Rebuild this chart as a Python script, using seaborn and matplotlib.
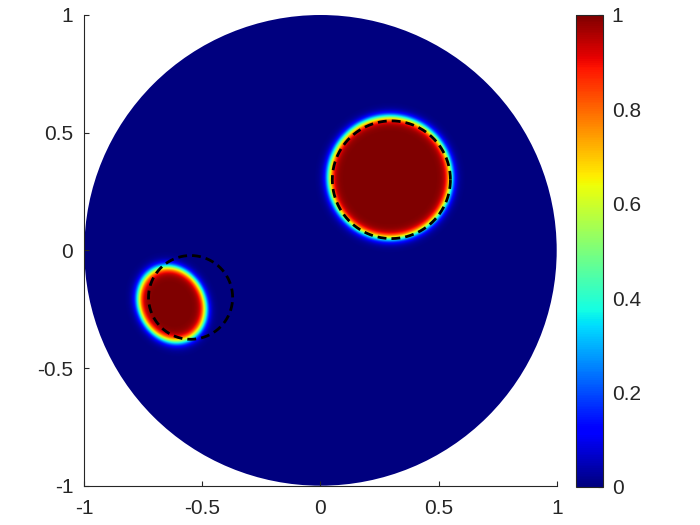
import numpy as np
import pandas as pd
import matplotlib
matplotlib.use("Agg")
import matplotlib.pyplot as plt
import seaborn as sns
from matplotlib.patches import Circle

# ---- data ----
# smooth inclusions (0.5-level contour), jet field value 1 inside, 0 outside
blob_cx = [0.294, -0.629]
blob_cy = [0.310, -0.228]
blob_a = [0.258, 0.163]      # semi-axis along blob_angle
blob_b = [0.258, 0.137]
blob_angle = [0.0, 115.0]    # degrees
blob_eps = [0.021, 0.021]    # interface width

# dashed reference circles
circ_cx = [0.30, -0.55]
circ_cy = [0.30, -0.20]
circ_r = [0.25, 0.178]

tick_vals = [-1, -0.5, 0, 0.5, 1]
tick_labels = ["-1", "-0.5", "0", "0.5", "1"]
cbar_ticks = [0, 0.2, 0.4, 0.6, 0.8, 1]
cbar_labels = ["0", "0.2", "0.4", "0.6", "0.8", "1"]

# ---- build the field ----
n = 900
g = np.linspace(-1, 1, n)
X, Y = np.meshgrid(g, g)
field = np.zeros_like(X)
for cx, cy, a, b, ang, eps in zip(blob_cx, blob_cy, blob_a, blob_b, blob_angle, blob_eps):
    phi = np.deg2rad(ang)
    dx, dy = X - cx, Y - cy
    xr = dx * np.cos(phi) + dy * np.sin(phi)
    yr = -dx * np.sin(phi) + dy * np.cos(phi)
    rho = np.sqrt((xr / a) ** 2 + (yr / b) ** 2)
    d = (rho - 1.0) * np.sqrt(a * b)
    field = np.maximum(field, 0.5 * (1 - np.tanh(d / eps)))

# ---- style ----
sns.set_theme(style="ticks")
plt.rcParams["font.family"] = ["Liberation Sans", "DejaVu Sans"]
txt = "#262626"

fig = plt.figure(figsize=(7, 5.25), dpi=100)
W, H = 700, 525
ax = fig.add_axes([84.3 / W, (H - 485.7) / H, 472.4 / W, 470.7 / H])
cax = fig.add_axes([576 / W, (H - 486.7) / H, 26.7 / W, 471.7 / H])

im = ax.imshow(field, extent=(-1, 1, -1, 1), origin="lower", cmap="jet",
               vmin=0, vmax=1, interpolation="bilinear")
im.set_clip_path(Circle((0, 0), 1.0, transform=ax.transData))

t = np.linspace(0, 2 * np.pi, 400)
for cx, cy, r in zip(circ_cx, circ_cy, circ_r):
    df = pd.DataFrame({"x": cx + r * np.cos(t), "y": cy + r * np.sin(t)})
    sns.lineplot(data=df, x="x", y="y", sort=False, estimator=None, ax=ax,
                 color="black", linewidth=2.0, linestyle=(0, (3.2, 1.8)))

ax.set_xlim(-1, 1)
ax.set_ylim(-1, 1)
ax.set_aspect("auto")
ax.set_xlabel("")
ax.set_ylabel("")
ax.set_xticks(tick_vals)
ax.set_xticklabels(tick_labels)
ax.set_yticks(tick_vals)
ax.set_yticklabels(tick_labels)
for s in ["top", "right"]:
    ax.spines[s].set_visible(False)
for s in ["left", "bottom"]:
    ax.spines[s].set_color(txt)
    ax.spines[s].set_linewidth(0.8)
ax.tick_params(axis="both", direction="in", length=3.6, width=0.8, colors=txt,
               labelsize=15)
ax.tick_params(axis="x", pad=9.5)
ax.tick_params(axis="y", pad=8)

cb = fig.colorbar(im, cax=cax, ticks=cbar_ticks)
cb.ax.set_yticklabels(cbar_labels)
cb.outline.set_edgecolor(txt)
cb.outline.set_linewidth(0.8)
cb.ax.tick_params(direction="in", length=3.6, width=0.8, colors=txt,
                  labelsize=15, pad=6.5)

fig.savefig("out.png", dpi=100)
